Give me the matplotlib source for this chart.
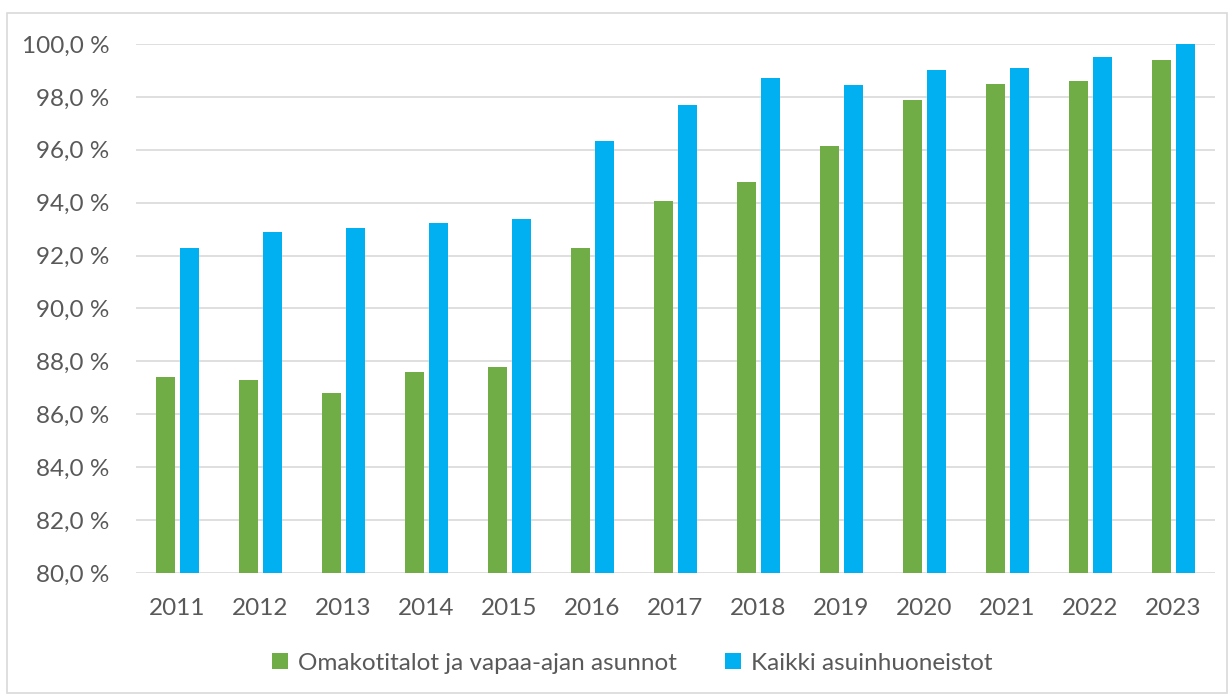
import matplotlib.pyplot as plt
import numpy as np
from matplotlib.patches import Rectangle

plt.rcParams['font.family'] = ['Lato', 'DejaVu Sans']

years = ['2011', '2012', '2013', '2014', '2015', '2016', '2017',
         '2018', '2019', '2020', '2021', '2022', '2023']
omakotitalot = [87.4, 87.3, 86.8, 87.6, 87.8, 92.3, 94.05,
                94.8, 96.15, 97.9, 98.5, 98.6, 99.4]
kaikki = [92.3, 92.9, 93.05, 93.25, 93.4, 96.35, 97.7,
          98.7, 98.45, 99.0, 99.1, 99.5, 100.0]
labels = ['Omakotitalot ja vapaa-ajan asunnot', 'Kaikki asuinhuoneistot']

green = '#70AD47'
blue = '#00B0F0'
text_col = '#595959'

fig = plt.figure(figsize=(12.32, 6.98), dpi=100)
ax = fig.add_axes([136 / 1232, 1 - 573 / 698, (1215 - 136) / 1232, (573 - 44) / 698])

x = np.arange(len(years))
w = 0.23
ax.bar(x - 0.145, omakotitalot, w, color=green, label=labels[0], zorder=3)
ax.bar(x + 0.145, kaikki, w, color=blue, label=labels[1], zorder=3)

ax.set_xlim(-0.5, len(years) - 0.5)
ax.set_ylim(80, 100)
yt = np.arange(80, 101, 2)
ax.set_yticks(yt)
ax.set_yticklabels([f'{v:.1f} %'.replace('.', ',') for v in yt])
ax.set_xticks(x)
ax.set_xticklabels(years)
ax.tick_params(axis='both', length=0, labelsize=17.5, labelcolor=text_col)
ax.tick_params(axis='y', pad=19)
ax.tick_params(axis='x', pad=18)
ax.grid(axis='y', color='#D9D9D9', linewidth=1.2, zorder=0)
for s in ax.spines.values():
    s.set_visible(False)

fig.legend(loc='center', bbox_to_anchor=(0.513, 1 - 663 / 698), ncol=2, frameon=False,
           fontsize=17.5, labelcolor=text_col, handlelength=0.65, handleheight=0.65,
           handletextpad=0.4, columnspacing=2.0)

fig.patches.append(Rectangle((7 / 1232, 5 / 698), 1220 / 1232, 680 / 698,
                             transform=fig.transFigure, fill=False,
                             edgecolor='#D9D9D9', linewidth=1.2))

fig.savefig('out.png', dpi=100)
